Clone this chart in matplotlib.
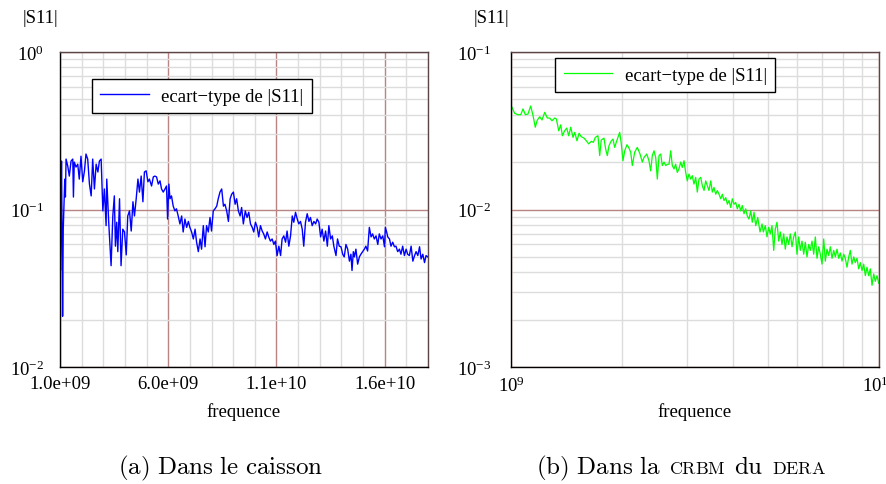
import numpy as np
import matplotlib
matplotlib.use("Agg")
import matplotlib.pyplot as plt
from matplotlib.ticker import MultipleLocator, LogLocator, NullFormatter

plt.rcParams["font.family"] = "Liberation Serif"
plt.rcParams["mathtext.fontset"] = "custom"
plt.rcParams["mathtext.rm"] = "Liberation Serif"
plt.rcParams["mathtext.it"] = "Liberation Serif:italic"
plt.rcParams["mathtext.bf"] = "Liberation Serif:bold"

# (a) caisson : frequence en GHz, ecart-type de |S11|
freq_a = [
    1.00, 1.02, 1.04, 1.07, 1.09, 1.12, 1.15, 1.19, 1.22, 1.25,
    1.28, 1.36, 1.43, 1.51, 1.59, 1.62, 1.66, 1.74, 1.82, 1.89,
    1.97, 2.05, 2.13, 2.20, 2.28, 2.36, 2.44, 2.51, 2.59, 2.67,
    2.75, 2.82, 2.90, 2.98, 3.05, 3.13, 3.16, 3.25, 3.36, 3.44,
    3.51, 3.56, 3.62, 3.67, 3.75, 3.82, 3.90, 3.98, 4.06, 4.13,
    4.21, 4.29, 4.37, 4.44, 4.52, 4.60, 4.67, 4.75, 4.83, 4.90,
    4.98, 5.06, 5.13, 5.23, 5.31, 5.38, 5.46, 5.54, 5.62, 5.69,
    5.77, 5.85, 5.92, 5.97, 6.03, 6.08, 6.15, 6.23, 6.31, 6.38,
    6.46, 6.54, 6.62, 6.69, 6.77, 6.85, 6.93, 7.00, 7.08, 7.16,
    7.24, 7.31, 7.39, 7.47, 7.54, 7.62, 7.70, 7.77, 7.85, 7.93,
    8.00, 8.08, 8.16, 8.24, 8.31, 8.39, 8.47, 8.55, 8.62, 8.70,
    8.78, 8.86, 8.93, 9.01, 9.09, 9.16, 9.24, 9.32, 9.39, 9.47,
    9.56, 9.64, 9.72, 9.80, 9.88, 9.95, 10.03, 10.11, 10.18, 10.26,
    10.34, 10.41, 10.49, 10.57, 10.64, 10.72, 10.80, 10.88, 10.95, 11.03,
    11.11, 11.19, 11.26, 11.34, 11.42, 11.49, 11.57, 11.65, 11.73, 11.80,
    11.88, 11.96, 12.03, 12.11, 12.19, 12.26, 12.34, 12.42, 12.50, 12.57,
    12.65, 12.73, 12.81, 12.88, 12.96, 13.04, 13.11, 13.19, 13.27, 13.35,
    13.42, 13.50, 13.58, 13.65, 13.75, 13.82, 13.90, 13.98, 14.06, 14.13,
    14.21, 14.29, 14.37, 14.44, 14.49, 14.55, 14.60, 14.67, 14.75, 14.83,
    14.90, 14.98, 15.06, 15.13, 15.21, 15.29, 15.37, 15.44, 15.52, 15.60,
    15.68, 15.75, 15.83, 15.91, 15.99, 16.03, 16.09, 16.14, 16.22, 16.29,
    16.37, 16.45, 16.52, 16.60, 16.68, 16.75, 16.83, 16.91, 16.99, 17.06,
    17.14, 17.22, 17.30, 17.38, 17.45, 17.53, 17.61, 17.68, 17.76, 17.84,
    17.91, 17.99,
]
s11_a = [
    0.060, 0.041, 0.070, 0.203, 0.094, 0.021, 0.075, 0.117, 0.156, 0.120,
    0.209, 0.188, 0.163, 0.203, 0.209, 0.120, 0.200, 0.186, 0.194, 0.156,
    0.218, 0.150, 0.176, 0.225, 0.209, 0.145, 0.122, 0.209, 0.135, 0.194,
    0.173, 0.203, 0.209, 0.098, 0.135, 0.079, 0.156, 0.083, 0.044, 0.091,
    0.122, 0.0585, 0.083, 0.054, 0.117, 0.044, 0.075, 0.072, 0.0515, 0.091,
    0.098, 0.073, 0.112, 0.091, 0.117, 0.156, 0.129, 0.163, 0.112, 0.173,
    0.176, 0.150, 0.156, 0.141, 0.161, 0.163, 0.161, 0.145, 0.152, 0.135,
    0.129, 0.135, 0.141, 0.087, 0.145, 0.117, 0.122, 0.105, 0.098, 0.101,
    0.091, 0.081, 0.091, 0.072, 0.087, 0.077, 0.084, 0.077, 0.072, 0.065,
    0.075, 0.062, 0.054, 0.065, 0.056, 0.079, 0.058, 0.079, 0.072, 0.089,
    0.073, 0.098, 0.101, 0.105, 0.117, 0.129, 0.135, 0.105, 0.108, 0.098,
    0.084, 0.117, 0.125, 0.129, 0.108, 0.117, 0.098, 0.091, 0.103, 0.081,
    0.098, 0.089, 0.096, 0.081, 0.077, 0.072, 0.083, 0.077, 0.067, 0.079,
    0.073, 0.070, 0.065, 0.072, 0.067, 0.063, 0.065, 0.060, 0.063, 0.051,
    0.0585, 0.051, 0.065, 0.068, 0.062, 0.073, 0.0585, 0.068, 0.091, 0.083,
    0.096, 0.087, 0.081, 0.084, 0.075, 0.0585, 0.083, 0.094, 0.084, 0.089,
    0.079, 0.084, 0.081, 0.087, 0.083, 0.067, 0.075, 0.063, 0.073, 0.0585,
    0.079, 0.065, 0.068, 0.0585, 0.051, 0.065, 0.0585, 0.058, 0.052, 0.050,
    0.060, 0.056, 0.047, 0.052, 0.041, 0.054, 0.050, 0.056, 0.045, 0.050,
    0.052, 0.054, 0.056, 0.0585, 0.0545, 0.077, 0.067, 0.070, 0.065, 0.068,
    0.060, 0.070, 0.065, 0.068, 0.058, 0.077, 0.072, 0.067, 0.065, 0.0585,
    0.062, 0.058, 0.0585, 0.054, 0.056, 0.052, 0.0585, 0.051, 0.056, 0.052,
    0.051, 0.0585, 0.047, 0.051, 0.054, 0.051, 0.058, 0.0485, 0.052, 0.046,
    0.051, 0.050,
]

# (b) CRBM du DERA
freq_b = [
    1.000, 1.006, 1.023, 1.045, 1.063, 1.078, 1.094, 1.112, 1.131, 1.148,
    1.164, 1.179, 1.197, 1.214, 1.235, 1.255, 1.274, 1.292, 1.315, 1.328,
    1.348, 1.365, 1.379, 1.399, 1.417, 1.435, 1.453, 1.474, 1.490, 1.511,
    1.531, 1.552, 1.579, 1.602, 1.626, 1.653, 1.674, 1.695, 1.723, 1.742,
    1.759, 1.789, 1.808, 1.827, 1.846, 1.873, 1.893, 1.913, 1.932, 1.953,
    1.974, 1.994, 2.015, 2.037, 2.066, 2.088, 2.115, 2.136, 2.168, 2.204,
    2.242, 2.274, 2.298, 2.338, 2.371, 2.396, 2.421, 2.447, 2.473, 2.498,
    2.525, 2.552, 2.577, 2.605, 2.633, 2.659, 2.688, 2.716, 2.744, 2.773,
    2.802, 2.830, 2.860, 2.891, 2.920, 2.952, 2.983, 3.013, 3.045, 3.078,
    3.109, 3.142, 3.176, 3.208, 3.242, 3.277, 3.310, 3.346, 3.381, 3.415,
    3.451, 3.489, 3.524, 3.561, 3.600, 3.636, 3.675, 3.714, 3.752, 3.792,
    3.833, 3.872, 3.913, 3.954, 3.994, 4.036, 4.079, 4.121, 4.165, 4.209,
    4.251, 4.297, 4.343, 4.386, 4.433, 4.481, 4.525, 4.574, 4.624, 4.682,
    4.750, 4.811, 4.850, 4.909, 4.962, 5.015, 5.065, 5.119, 5.175, 5.226,
    5.282, 5.338, 5.392, 5.450, 5.508, 5.564, 5.623, 5.683, 5.741, 5.802,
    5.864, 5.924, 5.987, 6.050, 6.111, 6.177, 6.243, 6.306, 6.373, 6.442,
    6.506, 6.575, 6.647, 6.713, 6.785, 6.857, 6.927, 7.000, 7.075, 7.147,
    7.223, 7.300, 7.374, 7.453, 7.532, 7.609, 7.690, 7.772, 7.849, 7.934,
    8.019, 8.098, 8.185, 8.274, 8.356, 8.445, 8.537, 8.622, 8.714, 8.807,
    8.897, 8.991, 9.087, 9.180, 9.277, 9.376, 9.471, 9.572, 9.674, 9.770,
    9.876, 9.982,
]
s11_b = [
    0.0454, 0.0446, 0.0408, 0.0400, 0.0400, 0.0435, 0.0400, 0.0404, 0.0454, 0.0394,
    0.0333, 0.0370, 0.0388, 0.0370, 0.0414, 0.0381, 0.0381, 0.0366, 0.0381, 0.0376,
    0.0316, 0.0345, 0.0294, 0.0316, 0.0329, 0.0294, 0.0333, 0.0287, 0.0309, 0.0273,
    0.0305, 0.0290, 0.0284, 0.0273, 0.0261, 0.0271, 0.0267, 0.0287, 0.0294, 0.0220,
    0.0276, 0.0284, 0.0242, 0.0220, 0.0254, 0.0273, 0.0280, 0.0248, 0.0267, 0.0287,
    0.0309, 0.0261, 0.0204, 0.0236, 0.0258, 0.0248, 0.0231, 0.0190, 0.0231, 0.0248,
    0.0225, 0.0200, 0.0214, 0.0225, 0.0204, 0.0176, 0.0220, 0.0236, 0.0214, 0.0156,
    0.0220, 0.0225, 0.0190, 0.0200, 0.0190, 0.0194, 0.0194, 0.0236, 0.0190, 0.0181,
    0.0194, 0.0172, 0.0181, 0.0200, 0.0185, 0.0204, 0.0172, 0.0152, 0.0168, 0.0156,
    0.0164, 0.0145, 0.0160, 0.0129, 0.0156, 0.0160, 0.0142, 0.0132, 0.0152, 0.0142,
    0.0132, 0.0152, 0.0129, 0.0138, 0.0125, 0.0132, 0.0125, 0.0117, 0.0125, 0.0114,
    0.0119, 0.0108, 0.0114, 0.0103, 0.0117, 0.0108, 0.0111, 0.0101, 0.0108, 0.0098,
    0.0106, 0.0094, 0.0101, 0.0091, 0.0087, 0.0098, 0.0083, 0.0096, 0.0079, 0.0089,
    0.0072, 0.0081, 0.0072, 0.0079, 0.0067, 0.0077, 0.0070, 0.0079, 0.0055, 0.0075,
    0.0083, 0.0063, 0.0072, 0.0060, 0.0070, 0.0056, 0.0067, 0.0060, 0.0070, 0.0058,
    0.0067, 0.0072, 0.0052, 0.0067, 0.0055, 0.0063, 0.0052, 0.0062, 0.0050, 0.0060,
    0.0055, 0.0063, 0.0052, 0.0067, 0.0049, 0.0058, 0.0052, 0.0045, 0.0065, 0.0047,
    0.0056, 0.0051, 0.0058, 0.0049, 0.0055, 0.0050, 0.0056, 0.0049, 0.0053, 0.0047,
    0.0052, 0.0049, 0.0043, 0.0050, 0.0055, 0.0045, 0.0050, 0.0046, 0.0049, 0.0042,
    0.0046, 0.0041, 0.0045, 0.0038, 0.0043, 0.0038, 0.0042, 0.0033, 0.0039, 0.0035,
    0.0038, 0.0034,
]

xticks_a = [1.0e9, 6.0e9, 1.1e10, 1.6e10]
xtick_labels_a = ["1.0e+09", "6.0e+09", "1.1e+10", "1.6e+10"]
legend_label = "ecart\u2212type de |S11|"

MAJOR = "#b98484"
MINOR = "#dcdcdc"
FS = 13.5


def style(ax, ypad):
    ax.set_axisbelow(True)
    ax.grid(True, which="minor", color=MINOR, lw=1.0)
    ax.grid(True, which="major", color=MAJOR, lw=1.0)
    ax.tick_params(which="both", length=0, labelsize=FS)
    ax.tick_params(axis="y", pad=ypad)
    ax.tick_params(axis="x", pad=6)
    for s in ["top", "right"]:
        ax.spines[s].set_color("#5a4646")
    for sp in ax.spines.values():
        sp.set_linewidth(1.0)
    ax.text(-0.052, 1.111, "|S11|", transform=ax.transAxes,
            ha="center", va="center", fontsize=FS)
    ax.set_xlabel("frequence", fontsize=FS)
    ax.xaxis.set_label_coords(0.5, -0.11)
    ax.yaxis.set_minor_locator(LogLocator(base=10, subs=np.arange(2, 10)))
    ax.yaxis.set_minor_formatter(NullFormatter())


def add_legend(ax, anchor):
    leg = ax.legend(loc="upper left", bbox_to_anchor=anchor, borderaxespad=0,
                    fancybox=False, edgecolor="black", framealpha=1, fontsize=FS,
                    handlelength=2.6, handletextpad=0.65, borderpad=0.45)
    leg.get_frame().set_linewidth(1.0)


fig = plt.figure(figsize=(8.87, 4.85), dpi=100)
ax1 = fig.add_axes([60 / 887, 1 - 368 / 485, 368 / 887, 315 / 485])
ax2 = fig.add_axes([511 / 887, 1 - 368 / 485, 368 / 887, 315 / 485])

# (a)
ax1.plot(np.array(freq_a) * 1e9, s11_a, color="#0000ff", lw=1.0, label=legend_label)
ax1.set_xlim(1e9, 1.8e10)
ax1.set_yscale("log")
ax1.set_ylim(1e-2, 1)
ax1.set_xticks(xticks_a)
ax1.set_xticklabels(xtick_labels_a)
ax1.xaxis.set_minor_locator(MultipleLocator(1e9))
style(ax1, 11.5)
add_legend(ax1, (0.087, 0.914))

# (b)
ax2.plot(np.array(freq_b) * 1e9, s11_b, color="#00ff00", lw=0.9, label=legend_label)
ax2.set_xscale("log")
ax2.set_yscale("log")
ax2.set_xlim(1e9, 1e10)
ax2.set_ylim(1e-3, 1e-1)
ax2.xaxis.set_minor_locator(LogLocator(base=10, subs=np.arange(2, 10)))
ax2.xaxis.set_minor_formatter(NullFormatter())
style(ax2, 14)
add_legend(ax2, (0.12, 0.981))

# legendes des sous-figures (petites capitales simulees)
renderer = fig.canvas.get_renderer()
base_y = 1 - 474 / 485


def caption(xc, pieces, size=18):
    texts = []
    widths = []
    gap = 0.33 * size * 100 / 72
    for s, small in pieces:
        t = fig.text(0, base_y, s, fontsize=size * 0.72 if small else size,
                     math_fontfamily="cm", va="baseline", ha="left")
        texts.append(t)
        widths.append(t.get_window_extent(renderer).width)
    total = sum(widths) + gap * (len(pieces) - 1)
    x = xc - total / 2
    for t, w in zip(texts, widths):
        t.set_x(x / 887)
        x += w + gap


caption(221, [(r"$\mathrm{(a)\ Dans\ le\ caisson}$", False)])
caption(681, [(r"$\mathrm{(b)\ Dans\ la}$", False), (r"$\mathrm{CRBM}$", True),
              (r"$\mathrm{du}$", False), (r"$\mathrm{DERA}$", True)])

fig.savefig("out.png", dpi=100)
